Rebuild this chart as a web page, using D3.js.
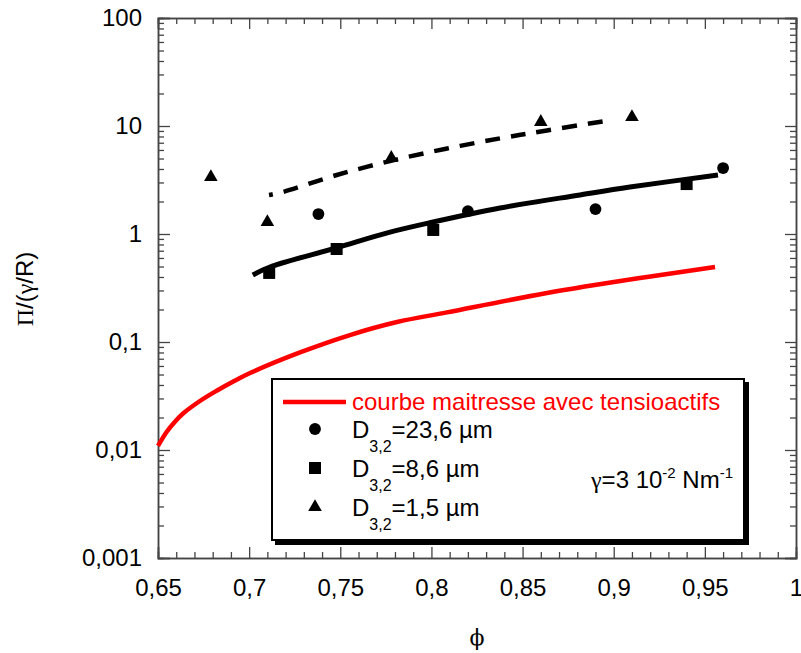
<!DOCTYPE html>
<html><head><meta charset="utf-8">
<script src="https://cdn.jsdelivr.net/npm/d3@7"></script>
<style>body{margin:0;background:#fff}svg{display:block}</style>
</head><body>
<svg id="c" width="801" height="653"></svg>
<script>
// ---- data ----
const xTicks = [0.65,0.7,0.75,0.8,0.85,0.9,0.95,1];
const yTicks = [0.001,0.01,0.1,1,10,100];
const circlesX = [0.738,0.82,0.89,0.96];
const circlesY = [1.53,1.63,1.70,4.08];
const squaresX = [0.711,0.748,0.801,0.940];
const squaresY = [0.436,0.726,1.09,2.9];
const trianglesX = [0.679,0.710,0.778,0.860,0.910];
const trianglesY = [3.37,1.29,5.06,10.9,12.1];
const fitSolidX = [0.702,0.7114,0.7476,0.7773,0.8009,0.8376,0.8815,0.9089,0.9572];
const fitSolidY = [0.417,0.495,0.742,1.04,1.29,1.74,2.30,2.72,3.52];
const fitDashX = [0.7109,0.7186,0.7476,0.7778,0.808,0.8376,0.8634,0.898];
const fitDashY = [2.30,2.45,3.50,4.76,6.16,7.68,9.10,11.3];
const masterX = [0.65,0.6548,0.6593,0.6639,0.673,0.6822,0.6913,0.7005,0.7279,0.7553,0.7811,0.8085,0.8634,0.9183,0.9556];
const masterY = [0.0109,0.01477,0.01828,0.02187,0.02842,0.0354,0.0431,0.0516,0.0800,0.116,0.153,0.188,0.284,0.400,0.495];

const svg = d3.select('#c');
const x = d3.scaleLinear().domain([0.65,1]).range([158,796]);
const y = d3.scaleLog().domain([0.001,100]).range([558,18]);
const fmt = v => String(v).replace('.', ',');
const SANS = '"Liberation Sans", Arial, sans-serif';
const SERIF = '"Liberation Serif", "Times New Roman", serif';
const axisColor = '#444';

const xMinor = d3.range(65,101).map(v=>v/100).filter(v=>!xTicks.some(t=>Math.abs(t-v)<1e-9));
const yMinor = [];
for (let e=-3;e<2;e++) for (let k=2;k<10;k++) yMinor.push(k*Math.pow(10,e));

function styleAxis(g){
  g.select('.domain').attr('stroke',axisColor).attr('stroke-width',1.5);
  g.selectAll('.tick line').attr('stroke',axisColor).attr('stroke-width',1.3);
  g.selectAll('text').attr('font-family',SANS).attr('font-size',24).attr('fill','#000');
}
// bottom
svg.append('g').attr('transform','translate(0,558)')
  .call(d3.axisBottom(x).tickValues(xMinor).tickSize(-6).tickFormat('')).call(styleAxis);
svg.append('g').attr('transform','translate(0,558)')
  .call(d3.axisBottom(x).tickValues(xTicks).tickSize(-11).tickPadding(21).tickFormat(fmt)).call(styleAxis);
// top
svg.append('g').attr('transform','translate(0,18)')
  .call(d3.axisTop(x).tickValues(xMinor).tickSize(-6).tickFormat('')).call(styleAxis);
svg.append('g').attr('transform','translate(0,18)')
  .call(d3.axisTop(x).tickValues(xTicks).tickSize(-11).tickFormat('')).call(styleAxis);
// left
svg.append('g').attr('transform','translate(158,0)')
  .call(d3.axisLeft(y).tickValues(yMinor).tickSize(-6).tickFormat('')).call(styleAxis);
svg.append('g').attr('transform','translate(158,0)')
  .call(d3.axisLeft(y).tickValues(yTicks).tickSize(-12).tickPadding(16).tickFormat(fmt)).call(styleAxis);
// right
svg.append('g').attr('transform','translate(796,0)')
  .call(d3.axisRight(y).tickValues(yMinor).tickSize(-6).tickFormat('')).call(styleAxis);
svg.append('g').attr('transform','translate(796,0)')
  .call(d3.axisRight(y).tickValues(yTicks).tickSize(-11).tickFormat('')).call(styleAxis);

// axis titles
const yt = svg.append('text').attr('transform','translate(33,289) rotate(-90)')
  .attr('text-anchor','middle').attr('font-size',24).attr('font-family',SANS);
yt.append('tspan').attr('font-family',SERIF).text('Π');
yt.append('tspan').text('/(');
yt.append('tspan').attr('font-family',SERIF).text('γ');
yt.append('tspan').text('/R)');
svg.append('text').attr('x',477).attr('y',645).attr('text-anchor','middle')
  .attr('font-family','"DejaVu Serif", "Liberation Serif", serif').attr('font-size',22).text('ϕ');

// lines
const line = (xs,ys) => d3.line().curve(d3.curveCatmullRom.alpha(0.5)).x((d,i)=>x(xs[i])).y((d,i)=>y(ys[i]))(xs);
svg.append('path').attr('d',line(masterX,masterY)).attr('fill','none').attr('stroke','#ff0000').attr('stroke-width',4.5);
svg.append('path').attr('d',line(fitSolidX,fitSolidY)).attr('fill','none').attr('stroke','#000').attr('stroke-width',5);
svg.append('path').attr('d',line(fitDashX,fitDashY)).attr('fill','none').attr('stroke','#000').attr('stroke-width',4.5)
  .attr('stroke-dasharray','15,11').attr('stroke-dashoffset',11);

// markers
const sym = (type,size) => d3.symbol().type(type).size(size)();
svg.append('g').selectAll('path').data(circlesX).join('path')
  .attr('transform',(d,i)=>`translate(${x(d)},${y(circlesY[i])})`).attr('d',sym(d3.symbolCircle,110)).attr('fill','#000');
svg.append('g').selectAll('path').data(squaresX).join('path')
  .attr('transform',(d,i)=>`translate(${x(d)},${y(squaresY[i])})`).attr('d',sym(d3.symbolSquare,144)).attr('fill','#000');
svg.append('g').selectAll('path').data(trianglesX).join('path')
  .attr('transform',(d,i)=>`translate(${x(d)},${y(trianglesY[i])})`).attr('d',sym(d3.symbolTriangle,80)).attr('fill','#000');

// legend
const lg = svg.append('g');
lg.append('rect').attr('x',275).attr('y',382).attr('width',474).attr('height',163).attr('fill','#000');
lg.append('rect').attr('x',272).attr('y',379).attr('width',472).attr('height',161).attr('fill','#fff').attr('stroke','#000').attr('stroke-width',2);
lg.append('line').attr('x1',283).attr('x2',346).attr('y1',402).attr('y2',402).attr('stroke','#ff0000').attr('stroke-width',4.5);
lg.append('text').attr('x',352).attr('y',410).attr('font-family',SANS).attr('font-size',24).attr('fill','#ff0000')
  .text('courbe maitresse avec tensioactifs');
const items = [
  {sym:d3.symbolCircle, size:110, label:'=23,6 µm'},
  {sym:d3.symbolSquare, size:144, label:'=8,6 µm'},
  {sym:d3.symbolTriangle, size:80, label:'=1,5 µm'}
];
items.forEach((it,i)=>{
  const cy = 429 + i*39;
  lg.append('path').attr('transform',`translate(315,${cy})`).attr('d',sym(it.sym,it.size)).attr('fill','#000');
  const t = lg.append('text').attr('x',352).attr('y',cy+9).attr('font-family',SANS).attr('font-size',24);
  t.append('tspan').text('D');
  t.append('tspan').attr('font-size',16).attr('dy',14).text('3,2');
  t.append('tspan').attr('dy',-14).text(it.label);
});
const gt = lg.append('text').attr('x',591).attr('y',488).attr('font-family',SANS).attr('font-size',24);
gt.append('tspan').attr('font-family',SERIF).text('γ');
gt.append('tspan').text('=3 10');
gt.append('tspan').attr('font-size',15).attr('dy',-10).text('-2');
gt.append('tspan').attr('dy',10).text(' Nm');
gt.append('tspan').attr('font-size',15).attr('dy',-10).text('-1');
</script>
</body></html>
